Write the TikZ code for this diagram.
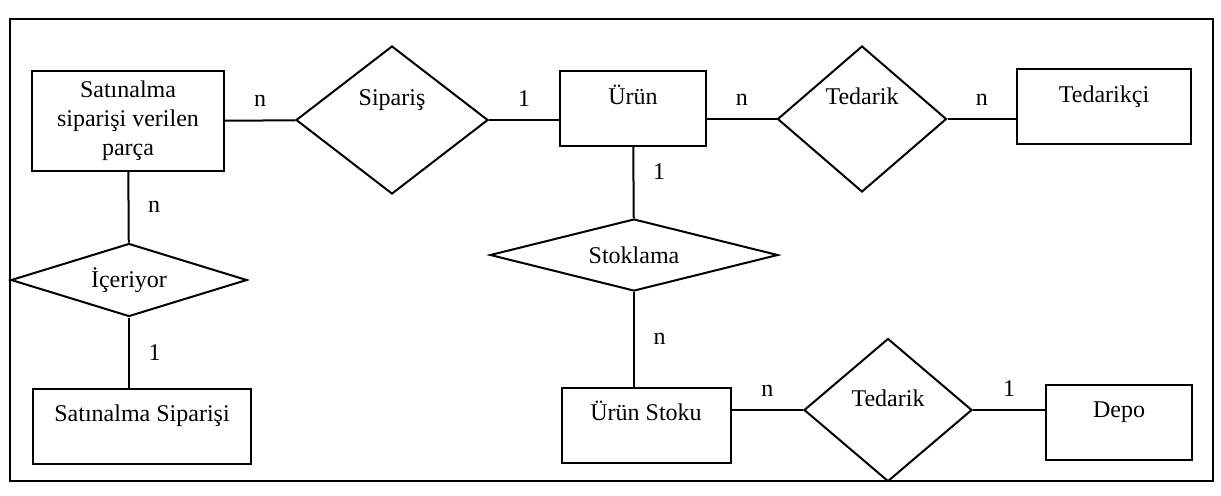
\documentclass[tikz,border=0pt]{standalone}
\usepackage{fontspec}
\setmainfont{Liberation Serif}
\usepackage{tikz}
\usetikzlibrary{shapes.geometric}

\begin{document}
\begin{tikzpicture}[x=0.5pt,y=-0.5pt,line width=1pt,
    every node/.style={font=\fontsize{12}{14.5}\selectfont},
    varlik/.style={draw,inner sep=0pt},
    kutu/.style={varlik,text height=16.5pt,text depth=21pt},
    iliski/.style={diamond,draw,inner sep=0pt,shape aspect=3},
    yukari/.style={shape aspect=1.2,text height=9pt,text depth=#1},
    yukari/.default=23.6pt,
    kard/.style={above=3pt},
    dik/.style={right=6pt}]
    \useasboundingbox (0,0) rectangle (1221,495);
    \draw (10,19) rectangle (1213,481);
    \node[varlik,align=center,minimum width=96pt,minimum height=50pt] (spv) at (128,121) {Satınalma\\siparişi verilen\\parça};
    \node[iliski,yukari,minimum width=96pt,minimum height=74pt] (sip) at (392,120) {Sipariş};
    \node[kutu,minimum width=73pt] (urun) at (633,108.5) {Ürün};
    \node[iliski,yukari,minimum width=84.5pt,minimum height=73pt] (ted1) at (862,119) {Tedarik};
    \node[kutu,minimum width=87pt] (tedci) at (1104,106.5) {Tedarikçi};
    \node[iliski,minimum width=144pt,minimum height=36pt] (stok) at (634,255) {Stoklama};
    \node[kutu,minimum width=84.5pt] (urst) at (646,425) {Ürün Stoku};
    \node[iliski,yukari=12.6pt,minimum width=84pt,minimum height=71.5pt] (ted2) at (888,410) {Tedarik};
    \node[kutu,minimum width=73pt] (depo) at (1119,422) {Depo};
    \node[iliski,minimum width=118pt,minimum height=36.5pt] (icer) at (129,280) {İçeriyor};
    \node[kutu,minimum width=109pt] (sats) at (142,426) {Satınalma Siparişi};
    \draw (spv) -- node[kard] {n} (sip);
    \draw (sip.east) -- node[kard] {1} (sip.east -| urun.west);
    \draw (ted1.west -| urun.east) -- node[kard] {n} (ted1.west);
    \draw (ted1.east) -- node[kard] {n} (ted1.east -| tedci.west);
    \draw (urun) -- node[dik,pos=0.35] {1} (stok);
    \draw (stok.south) -- node[dik] {n} (stok.south |- urst.north);
    \draw (ted2.west -| urst.east) -- node[kard] {n} (ted2.west);
    \draw (ted2.east) -- node[kard] {1} (ted2.east -| depo.west);
    \draw (spv) -- node[dik] {n} (icer);
    \draw (icer.south) -- node[dik] {1} (icer.south |- sats.north);
\end{tikzpicture}
\end{document}
